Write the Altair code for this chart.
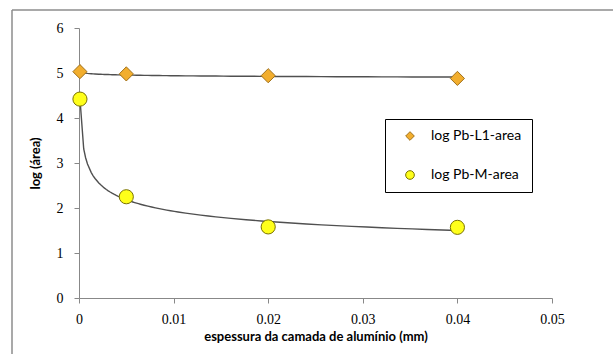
import altair as alt
import pandas as pd

thickness = [0.0001, 0.005, 0.02, 0.04]
log_l1 = [5.03, 4.98, 4.94, 4.88]
log_m = [4.42, 2.25, 1.58, 1.57]
series_names = ["log Pb-L1-area", "log Pb-M-area"]

rows = []
for x, a, b in zip(thickness, log_l1, log_m):
    rows.append({"x": x, "y": a, "series": series_names[0]})
    rows.append({"x": x, "y": b, "series": series_names[1]})
df = pd.DataFrame(rows)

xs = alt.X("x:Q", scale=alt.Scale(domain=[0, 0.05], nice=False),
           axis=alt.Axis(values=[0, 0.01, 0.02, 0.03, 0.04, 0.05], format="~g", labelFlush=False,
                         title="espessura da camada de alumínio (mm)", grid=False))
ys = alt.Y("y:Q", scale=alt.Scale(domain=[0, 6], nice=False),
           axis=alt.Axis(values=[0, 1, 2, 3, 4, 5, 6], title="log (área)", grid=False))

base = alt.Chart(df)

lines = base.transform_regression("x", "y", groupby=["series"], method="pow").mark_line(
    color="#505050", strokeWidth=1.4
).encode(x=xs, y=ys, detail="series:N")

leg = alt.Legend(title=None, orient="none", legendX=306, legendY=91,
                 strokeColor="#000000", padding=10, rowPadding=25,
                 symbolSize=75, symbolOffset=8, labelFont="Lato", labelFontSize=14,
                 labelColor="#000000", labelOffset=14,
                 symbolStrokeWidth=1, fillColor="#ffffff")

points = base.mark_point(filled=True, size=200, strokeWidth=1, opacity=1).encode(
    x=xs, y=ys,
    fill=alt.Fill("series:N", scale=alt.Scale(domain=series_names, range=["#F2AE2E", "#FFFF1A"]), legend=leg),
    stroke=alt.Stroke("series:N", scale=alt.Scale(domain=series_names, range=["#A0701A", "#7A7200"]), legend=leg),
    shape=alt.Shape("series:N", scale=alt.Scale(domain=series_names, range=["diamond", "circle"]), legend=leg),
)

border_top = alt.Chart(pd.DataFrame({"k": [0]})).mark_rule(color="#8c8c8c", strokeWidth=1.5).encode(
    x=alt.value(-67), x2=alt.value(540), y=alt.value(-18))
border_left = alt.Chart(pd.DataFrame({"k": [0]})).mark_rule(color="#8c8c8c", strokeWidth=1.5).encode(
    x=alt.value(-67), y=alt.value(-18), y2=alt.value(330))

chart = alt.layer(border_top, border_left, lines, points).properties(
    width=473, height=270,
    autosize=alt.AutoSizeParams(type="none"),
    padding={"left": 79, "top": 28, "right": 61, "bottom": 56},
).configure_view(stroke=None).configure_axis(
    domainColor="#888888", tickColor="#888888", tickSize=5,
    labelFont="Liberation Serif", labelFontSize=14, labelColor="#000000",
    titleFont="Lato", titleFontSize=13, titleFontWeight="bold", titleColor="#000000",
).configure_axisX(labelPadding=9, titlePadding=4).configure_axisY(labelPadding=11, titlePadding=14)

chart.save("out.html", embed_options={"renderer": "svg", "actions": False})
